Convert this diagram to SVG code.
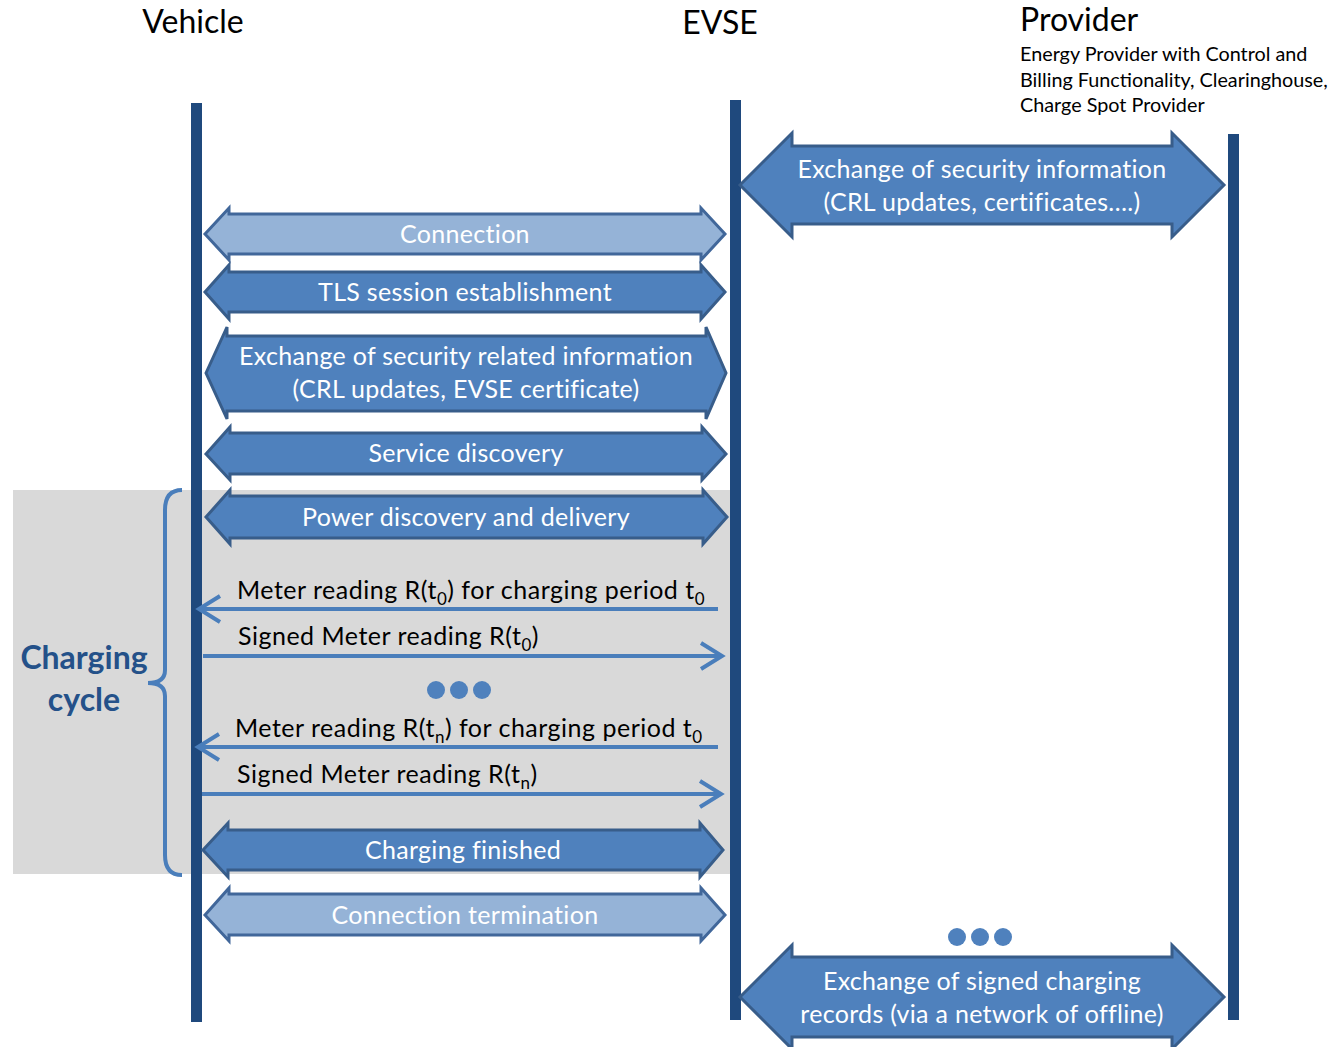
<svg xmlns="http://www.w3.org/2000/svg" width="1334" height="1047" viewBox="0 0 1334 1047">
  <style>
    text { font-family: Lato, "Open Sans", "Liberation Sans", sans-serif; }
    .head { font-size: 32px; fill: #000; }
    .sub { font-size: 19.8px; fill: #000; }
    .lbl { font-size: 25px; fill: #fff; text-anchor: middle; letter-spacing: 0.3px; }
    .msg { font-size: 25px; fill: #000; letter-spacing: 0.5px; }
    .life { fill: #1f497d; }
    .dark { fill: #4f81bd; stroke: #385d8a; stroke-width: 3; stroke-linejoin: miter; }
    .light { fill: #95b3d7; stroke: #41679a; stroke-width: 3; stroke-linejoin: miter; }
    .line { stroke: #4a7ebb; stroke-width: 4; fill: none; }
    .dot { fill: #4f81bd; }
    .cyc { font-size: 32px; font-weight: bold; fill: #245189; text-anchor: middle; }
  </style>

  <!-- charging cycle background -->
  <rect x="13" y="490" width="717" height="384" fill="#d9d9d9"/>

  <!-- headers -->
  <g id="vehicle">
    <text class="head" x="193" y="33" text-anchor="middle">Vehicle</text>
    <rect class="life" x="191" y="103" width="11" height="919"/>
  </g>
  <g id="evse">
    <text class="head" x="720" y="34" text-anchor="middle">EVSE</text>
    <rect class="life" x="730" y="100" width="11" height="920"/>
  </g>
  <g id="provider">
    <text class="head" x="1020" y="31">Provider</text>
    <text class="sub" x="1020" y="61">Energy Provider with Control and</text>
    <text class="sub" x="1020" y="87">Billing Functionality, Clearinghouse,</text>
    <text class="sub" x="1020" y="112">Charge Spot Provider</text>
    <rect class="life" x="1228" y="134" width="11" height="886"/>
  </g>

  <!-- charging cycle brace -->
  <g id="charging-cycle">
    <path class="line" d="M182,490 Q165,490 165,510 L165,670 Q165,683 148,683 Q165,683 165,696 L165,855 Q165,875 182,875"/>
    <text class="cyc" x="84" y="669">Charging</text>
    <text class="cyc" x="84" y="711">cycle</text>
  </g>

  <g id="connectors">
    <g id="provider-security">
      <path class="dark" d="M740,185 L792,133 L792,146 L1172,146 L1172,133 L1224,185 L1172,237 L1172,224 L792,224 L792,237 Z"/>
      <text class="lbl" x="982" y="178">Exchange of security information</text>
      <text class="lbl" x="982" y="211">(CRL updates, certificates….)</text>
    </g>
    <g id="connection">
      <path class="light" d="M205,234 L229,208 L229,214 L701,214 L701,208 L725,234 L701,260 L701,254 L229,254 L229,260 Z"/>
      <text class="lbl" x="465" y="243">Connection</text>
    </g>
    <g id="tls">
      <path class="dark" d="M205,292 L229,265 L229,272 L701,272 L701,265 L725,292 L701,319 L701,312 L229,312 L229,319 Z"/>
      <text class="lbl" x="465" y="301">TLS session establishment</text>
    </g>
    <g id="security-related">
      <path class="dark" d="M206,373 L227,327 L227,336 L706,336 L706,327 L726,373 L706,419 L706,411 L227,411 L227,419 Z"/>
      <text class="lbl" x="466" y="365">Exchange of security related information</text>
      <text class="lbl" x="466" y="398">(CRL updates, EVSE certificate)</text>
    </g>
    <g id="service-discovery">
      <path class="dark" d="M206,454 L230,427 L230,433 L702,433 L702,427 L726,454 L702,480 L702,474 L230,474 L230,480 Z"/>
      <text class="lbl" x="466" y="462">Service discovery</text>
    </g>
    <g id="power-discovery">
      <path class="dark" d="M206,517 L230,490 L230,496 L703,496 L703,490 L727,517 L703,544 L703,538 L230,538 L230,544 Z"/>
      <text class="lbl" x="466" y="526">Power discovery and delivery</text>
    </g>
    <g id="meter-t0">
      <path class="line" d="M718,609 L199,609 M220,596 L199,609 L220,622"/>
      <text class="msg" x="237" y="599">Meter reading R(t<tspan font-size="17" dy="6">0</tspan><tspan dy="-6">) for charging period t</tspan><tspan font-size="17" dy="6">0</tspan></text>
    </g>
    <g id="signed-t0">
      <path class="line" d="M203,656 L722,656 M701,643 L722,656 L701,669"/>
      <text class="msg" x="238" y="645">Signed Meter reading R(t<tspan font-size="17" dy="6">0</tspan><tspan dy="-6">)</tspan></text>
    </g>
    <g id="dots-1">
      <circle class="dot" cx="436" cy="690" r="9"/>
      <circle class="dot" cx="459" cy="690" r="9"/>
      <circle class="dot" cx="482" cy="690" r="9"/>
    </g>
    <g id="meter-tn">
      <path class="line" d="M718,747 L198,747 M219,734 L198,747 L219,760"/>
      <text class="msg" x="235" y="737">Meter reading R(t<tspan font-size="17" dy="6">n</tspan><tspan dy="-6">) for charging period t</tspan><tspan font-size="17" dy="6">0</tspan></text>
    </g>
    <g id="signed-tn">
      <path class="line" d="M202,794 L721,794 M700,781 L721,794 L700,807"/>
      <text class="msg" x="237" y="783">Signed Meter reading R(t<tspan font-size="17" dy="6">n</tspan><tspan dy="-6">)</tspan></text>
    </g>
    <g id="charging-finished">
      <path class="dark" d="M203,850 L228,823 L228,830 L700,830 L700,823 L723,850 L700,877 L700,870 L228,870 L228,877 Z"/>
      <text class="lbl" x="463" y="859">Charging finished</text>
    </g>
    <g id="connection-termination">
      <path class="light" d="M205,915 L229,888 L229,894 L701,894 L701,888 L725,915 L701,941 L701,935 L229,935 L229,941 Z"/>
      <text class="lbl" x="465" y="924">Connection termination</text>
    </g>
    <g id="dots-2">
      <circle class="dot" cx="957" cy="937" r="9"/>
      <circle class="dot" cx="980" cy="937" r="9"/>
      <circle class="dot" cx="1003" cy="937" r="9"/>
    </g>
    <g id="charging-records">
      <path class="dark" d="M740,997 L792,945 L792,957 L1172,957 L1172,945 L1224,997 L1172,1049 L1172,1037 L792,1037 L792,1049 Z"/>
      <text class="lbl" x="982" y="990">Exchange of signed charging</text>
      <text class="lbl" x="982" y="1023">records (via a network of offline)</text>
    </g>
  </g>
</svg>
